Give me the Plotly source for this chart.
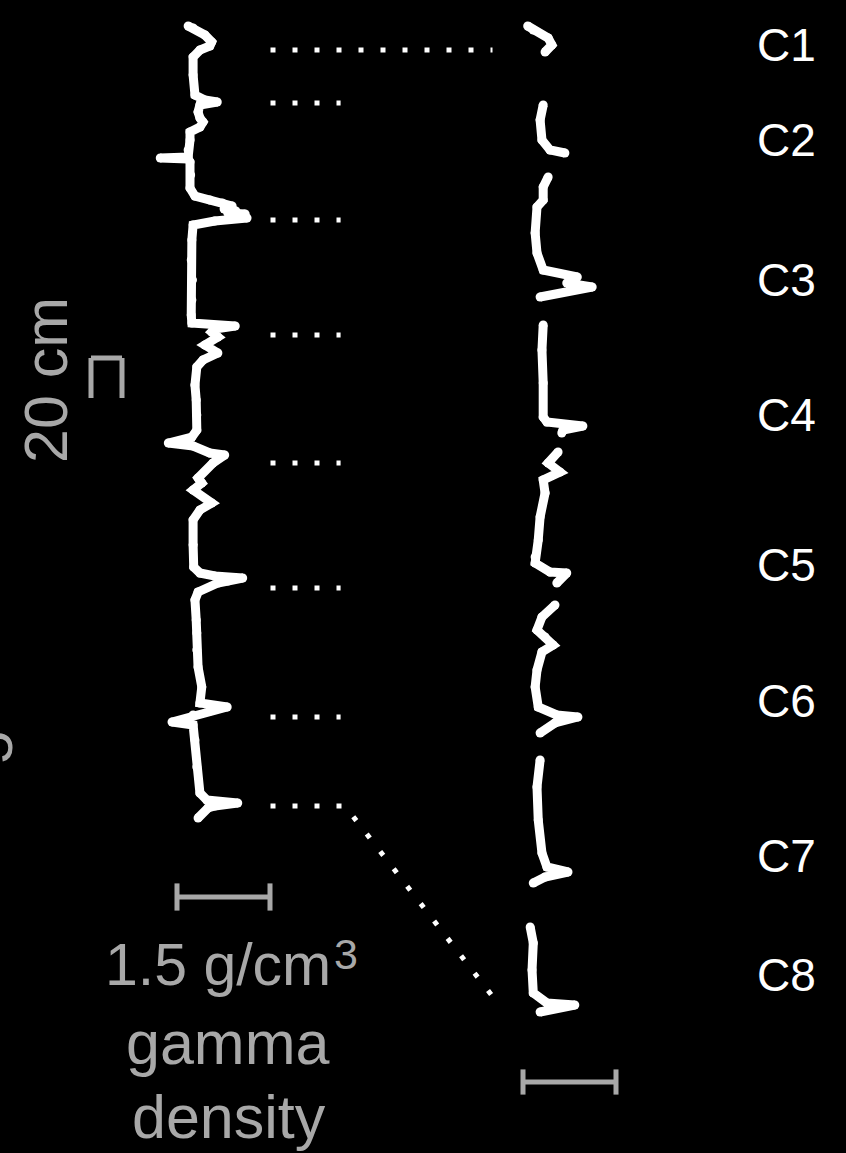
import plotly.graph_objects as go

W, H = 846, 1153

# ---------------- data ----------------
# Composite gamma-density log (depth in cm, density in g/cm3)
comp_depth = [13.0, 14.0, 17.5, 21.0, 23.0, 25.0, 28.5, 37.5, 47.5, 50.0, 51.0, 52.5, 56.0, 59.0, 61.0, 63.5,
              66.0, 70.0, 75.0, 78.5, 79.0, 79.5, 81.0, 87.5, 94.0, 98.0, 100.0, 101.5, 103.0, 104.5, 105.5,
              106.5, 107.0, 108.0, 109.0, 110.5, 112.5, 120.0, 130.0, 140.0, 150.0, 157.5, 161.5, 163.0, 164.5,
              166.0, 168.5, 172.5, 176.5, 180.0, 183.5, 192.5, 200.0, 207.5, 215.0, 218.5, 221.5, 223.0, 226.5,
              227.5, 231.5, 239.0, 241.5, 245.0, 251.5, 255.0, 260.0, 272.5, 283.5, 286.5, 288.0, 289.0, 290.5,
              291.5, 296.0, 300.0, 310.0, 316.5, 325.0, 333.5, 343.5, 351.5, 353.5, 355.5, 357.5, 361.0, 362.5,
              370.0, 383.5, 396.5, 400.0, 401.5, 403.0, 404.0, 409.0]
comp_density = [1.27, 1.35, 1.54, 1.65, 1.62, 1.46, 1.35, 1.35, 1.38, 1.54, 1.74, 1.46, 1.43, 1.46, 1.51, 1.46,
                1.30, 1.30, 1.27, 1.27, 0.82, 1.27, 1.30, 1.31, 1.30, 1.38, 1.62, 1.82, 1.98, 1.85, 2.04,
                1.91, 2.19, 1.98, 2.22, 1.70, 1.35, 1.33, 1.32, 1.34, 1.33, 1.32, 1.33, 2.03, 1.70,
                1.65, 1.75, 1.54, 1.75, 1.51, 1.41, 1.38, 1.40, 1.41, 1.41, 1.33, 0.95, 1.35, 1.62,
                1.86, 1.67, 1.43, 1.49, 1.35, 1.65, 1.46, 1.35, 1.35, 1.36, 1.46, 1.70, 2.15, 1.91,
                1.75, 1.43, 1.38, 1.40, 1.41, 1.41, 1.43, 1.49, 1.46, 1.90, 1.62, 1.35, 1.01, 1.35,
                1.38, 1.41, 1.46, 1.57, 2.07, 1.70, 1.59, 1.43]

# Individual core sections
c1_depth = [13.0, 15.0, 19.0, 22.5, 26.0]
c1_density = [1.15, 1.24, 1.48, 1.54, 1.43]
c2_depth = [52.5, 60.0, 70.0, 75.0, 76.5]
c2_density = [1.40, 1.35, 1.38, 1.51, 1.75]
c3_depth = [88.5, 93.5, 100.0, 103.5, 116.5, 126.5, 135.0, 138.5, 141.5, 143.5, 148.5]
c3_density = [1.48, 1.40, 1.40, 1.30, 1.27, 1.30, 1.40, 1.95, 1.78, 2.19, 1.35]
c4_depth = [162.5, 175.0, 191.5, 208.5, 211.0, 213.0, 215.0, 216.5]
c4_density = [1.40, 1.38, 1.40, 1.40, 1.46, 2.04, 1.72, 1.70]
c5_depth = [226.0, 231.5, 236.0, 240.0, 246.5, 258.5, 270.0, 278.5, 281.5, 286.0, 286.5, 291.5]
c5_density = [1.64, 1.48, 1.67, 1.40, 1.43, 1.35, 1.32, 1.27, 1.27, 1.51, 1.78, 1.62]
c6_depth = [302.5, 308.5, 315.0, 318.5, 322.5, 326.0, 335.0, 343.5, 353.5, 357.5, 358.5, 361.5, 366.5]
c6_density = [1.59, 1.38, 1.30, 1.43, 1.56, 1.38, 1.30, 1.27, 1.32, 1.62, 1.96, 1.59, 1.35]
c7_depth = [380.0, 393.5, 410.0, 426.5, 433.5, 436.0, 438.5, 441.5]
c7_density = [1.35, 1.30, 1.32, 1.38, 1.46, 1.80, 1.43, 1.24]
c8_depth = [463.5, 471.5, 485.0, 496.5, 501.5, 502.5, 506.0]
c8_density = [1.19, 1.24, 1.22, 1.24, 1.46, 1.91, 1.35]

section_names = ["C1", "C2", "C3", "C4", "C5", "C6", "C7", "C8"]
section_label_depth = [22.5, 70.0, 140.0, 207.5, 282.5, 350.5, 428.0, 487.5]

# tie-point depths on the composite log (dotted correlation lines)
tie_depths = [25.0, 51.5, 110.0, 167.5, 231.5, 294.0, 358.5, 403.0]
tie_bottom_target = 503.0   # depth of C8 bottom peak

scale_density = 1.5   # g/cm3
scale_depth = 20.0    # cm

# ---------------- layout constants ----------------
PX_PER_UNIT = 62.0            # px per g/cm3
PX_PER_CM = 2.0
BASE = 1.30
LEFT_BASE_PX = 190.0
RIGHT_BASE_PX = 537.0
left_range = [BASE - LEFT_BASE_PX / PX_PER_UNIT, BASE - LEFT_BASE_PX / PX_PER_UNIT + W / PX_PER_UNIT]
right_range = [BASE - RIGHT_BASE_PX / PX_PER_UNIT, BASE - RIGHT_BASE_PX / PX_PER_UNIT + W / PX_PER_UNIT]


def lx(px):
    return left_range[0] + px / PX_PER_UNIT


GRAY = "#a8a8a8"
WHITE = "#ffffff"
FONT = "Liberation Sans, Arial, sans-serif"

fig = go.Figure()

trace_style = dict(mode="lines+markers", line=dict(color=WHITE, width=9),
                   marker=dict(color=WHITE, size=9), hoverinfo="skip", showlegend=False)

fig.add_trace(go.Scatter(x=comp_density, y=comp_depth, xaxis="x", yaxis="y", **trace_style))

sections = [(c1_depth, c1_density), (c2_depth, c2_density), (c3_depth, c3_density), (c4_depth, c4_density),
            (c5_depth, c5_density), (c6_depth, c6_density), (c7_depth, c7_density), (c8_depth, c8_density)]
for d, v in sections:
    fig.add_trace(go.Scatter(x=v, y=d, xaxis="x2", yaxis="y", **trace_style))

# dotted correlation lines
dot_style = dict(mode="lines", line=dict(color=WHITE, width=5, dash="5px,17px"),
                 hoverinfo="skip", showlegend=False, xaxis="x", yaxis="y")
x_start = lx(270.5)
x_short = lx(340.6)
x_long = lx(492.5)
for i, td in enumerate(tie_depths):
    if i == 0:
        fig.add_trace(go.Scatter(x=[x_start, x_long], y=[td, td], **dot_style))
    elif i == len(tie_depths) - 1:
        fig.add_trace(go.Scatter(x=[x_start, lx(345), lx(500)], y=[td, td, tie_bottom_target], **dot_style))
    else:
        fig.add_trace(go.Scatter(x=[x_start, x_short], y=[td, td], **dot_style))

shapes = []
# density scale bars
bar_w = 5
for xref, x0px, yd, cap in [("x", 177, 448.5, 6.8), ("x2", 523, 541.0, 6.3)]:
    rng = left_range if xref == "x" else right_range
    x0 = rng[0] + x0px / PX_PER_UNIT
    x1 = x0 + scale_density
    shapes.append(dict(type="line", xref=xref, yref="y", x0=x0, x1=x1, y0=yd, y1=yd,
                       line=dict(color=GRAY, width=bar_w)))
    for xx in (x0, x1):
        shapes.append(dict(type="line", xref=xref, yref="y", x0=xx, x1=xx, y0=yd - cap, y1=yd + cap,
                           line=dict(color=GRAY, width=bar_w)))

# depth scale bracket (20 cm)
br_top = 179.0
br_bot = br_top + scale_depth
bx0, bx1 = 91 / W, 122 / W
shapes.append(dict(type="line", xref="paper", yref="y", x0=bx0, x1=bx1, y0=br_top, y1=br_top,
                   line=dict(color=GRAY, width=bar_w)))
for bx in (bx0, bx1):
    shapes.append(dict(type="line", xref="paper", yref="y", x0=bx, x1=bx, y0=br_top, y1=br_bot,
                       line=dict(color=GRAY, width=bar_w)))

annotations = []
for name, d in zip(section_names, section_label_depth):
    annotations.append(dict(text=name, xref="paper", yref="y", x=755 / W, y=d, xanchor="left",
                            yanchor="middle", showarrow=False, font=dict(family=FONT, size=46, color=WHITE)))

annotations += [
    dict(text="20 cm", xref="paper", yref="y", x=46 / W, y=190.0, textangle=-90, showarrow=False,
         xanchor="center", yanchor="middle", font=dict(family=FONT, size=61, color=GRAY)),
    dict(text="5", xref="paper", yref="y", x=-9 / W, y=374.0, textangle=-90, showarrow=False,
         xanchor="center", yanchor="middle", font=dict(family=FONT, size=60, color=GRAY)),
    dict(text="1.5 g/cm", xref="paper", yref="y", x=333 / W, y=482.5, showarrow=False,
         xanchor="right", yanchor="middle", font=dict(family=FONT, size=59, color=GRAY)),
    dict(text="3", xref="paper", yref="y", x=332 / W, y=477.0, showarrow=False,
         xanchor="left", yanchor="middle", font=dict(family=FONT, size=43, color=GRAY)),
    dict(text="gamma", xref="paper", yref="y", x=227 / W, y=521.5, showarrow=False,
         xanchor="center", yanchor="middle", font=dict(family=FONT, size=61, color=GRAY)),
    dict(text="density", xref="paper", yref="y", x=229 / W, y=558.5, showarrow=False,
         xanchor="center", yanchor="middle", font=dict(family=FONT, size=61, color=GRAY)),
]

fig.update_layout(
    width=W, height=H,
    margin=dict(l=0, r=0, t=0, b=0, pad=0),
    paper_bgcolor="black", plot_bgcolor="black",
    xaxis=dict(range=left_range, visible=False, domain=[0, 1], fixedrange=True),
    xaxis2=dict(range=right_range, visible=False, overlaying="x", anchor="y", fixedrange=True),
    yaxis=dict(range=[H / PX_PER_CM, 0], visible=False, domain=[0, 1], fixedrange=True),
    shapes=shapes,
    annotations=annotations,
    showlegend=False,
)

fig.write_html(
    "out.html",
    config={"displayModeBar": False},
    post_script="document.body.style.margin='0';document.body.style.background='black';",
)
